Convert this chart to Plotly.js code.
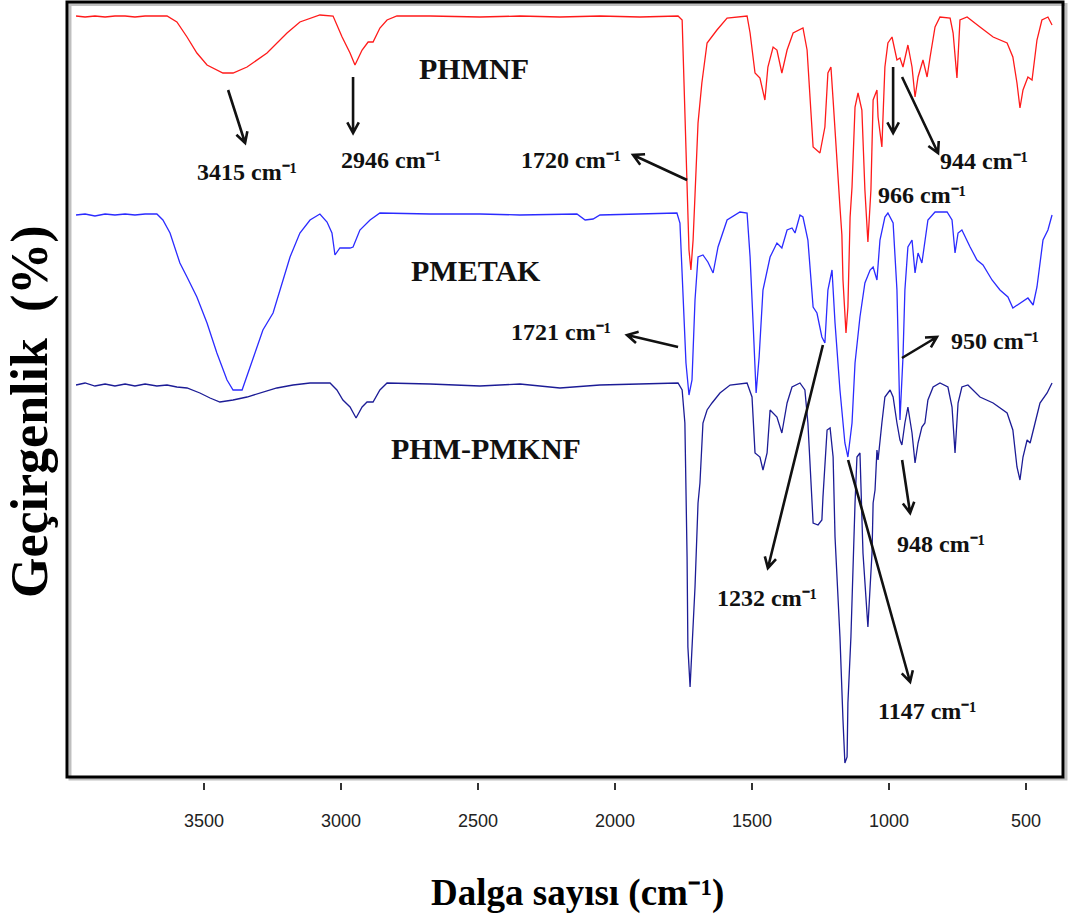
<!DOCTYPE html>
<html>
<head>
<meta charset="utf-8">
<script src="https://cdn.plot.ly/plotly-3.0.1.min.js"></script>
<style>html,body{margin:0;padding:0;background:#fff}#chart{width:1070px;height:921px}</style>
</head>
<body>
<div id="chart"></div>
<script>
// Wavenumbers (cm-1) and relative transmittance (arbitrary units, offset spectra)
const phmnfWn = [3967,3934,3898,3861,3825,3788,3752,3715,3672,3635,3599,3562,3526,3489,3431,3394,3343,3270,3197,3150,3077,3029,2996,2967,2949,2923,2901,2883,2858,2832,2796,2675,2493,2347,2201,2055,1909,1770,1755,1752,1745,1737,1730,1723,1715,1708,1697,1683,1664,1628,1591,1518,1507,1489,1471,1453,1442,1423,1409,1391,1372,1350,1314,1299,1288,1277,1252,1234,1223,1212,1204,1190,1179,1172,1168,1157,1150,1142,1135,1124,1113,1099,1088,1077,1066,1058,1044,1040,1026,1015,1004,989,971,960,949,931,916,905,894,876,861,850,832,814,777,766,752,741,715,668,620,569,548,533,522,511,493,478,460,442,420,405];
const phmnfT = [761,760,761,760,761,761,760,761,761,761,755,740,724,712,704,704,710,724,744,755,762,761,740,724,712,727,735,735,749,757,761,761,760,761,760,761,760,761,757,730,677,597,527,507,537,582,654,694,734,747,759,761,744,704,699,677,710,730,727,704,727,744,749,727,677,630,624,650,704,710,677,610,570,542,497,444,470,560,590,670,684,667,587,535,587,677,687,660,630,710,734,740,717,719,710,732,710,680,700,717,700,720,750,760,759,744,699,757,760,750,740,734,720,694,669,687,700,697,737,757,760,752];

const pmetakWn = [3967,3934,3898,3861,3825,3788,3752,3715,3672,3650,3624,3588,3562,3526,3489,3453,3416,3394,3361,3332,3296,3285,3248,3223,3186,3150,3113,3077,3051,3033,3022,3004,2967,2956,2931,2894,2858,2675,2493,2347,2201,2139,2109,2080,2055,1909,1774,1763,1752,1741,1730,1719,1708,1697,1679,1661,1642,1624,1591,1544,1518,1507,1496,1485,1474,1460,1434,1409,1391,1372,1354,1343,1325,1314,1296,1277,1263,1245,1234,1223,1208,1197,1179,1161,1150,1135,1124,1106,1088,1069,1058,1044,1033,1015,1004,985,971,967,960,949,942,931,916,905,894,880,869,858,832,788,770,759,748,734,704,679,657,624,595,566,548,522,493,474,460,438,420,405];
const pmetakT = [562,563,561,563,562,563,562,563,563,557,544,514,500,480,454,424,397,387,387,410,440,447,464,487,520,544,557,563,555,544,522,529,529,530,547,557,564,563,563,562,563,563,557,558,562,563,564,554,487,414,382,397,477,520,522,515,504,530,557,565,564,520,454,384,420,487,520,534,529,547,549,544,562,560,537,470,464,440,434,487,507,454,387,334,320,354,414,460,494,507,510,497,537,560,564,554,487,427,357,420,487,530,537,504,524,514,537,557,565,565,557,524,544,547,530,517,512,497,487,480,469,474,479,472,490,537,547,562];

const phmPmknfWn = [3967,3934,3898,3861,3825,3788,3752,3715,3672,3635,3599,3562,3515,3478,3442,3394,3343,3296,3234,3175,3113,3040,3015,2993,2967,2945,2923,2905,2883,2858,2832,2675,2493,2347,2201,2055,1909,1770,1755,1745,1737,1734,1726,1719,1708,1697,1690,1679,1664,1646,1617,1580,1518,1500,1489,1471,1460,1445,1434,1409,1391,1372,1354,1325,1307,1296,1288,1281,1277,1259,1245,1241,1234,1226,1215,1204,1197,1179,1168,1161,1153,1150,1139,1131,1124,1117,1106,1095,1080,1077,1069,1062,1058,1051,1044,1040,1026,1015,996,985,971,960,953,942,931,916,905,894,880,869,858,839,814,785,770,759,748,734,712,668,620,569,548,533,522,511,496,485,467,449,423,405];
const phmPmknfT = [392,394,391,393,391,393,391,393,391,392,390,389,384,379,375,377,380,384,389,392,394,394,387,377,370,359,370,375,375,387,394,393,391,393,389,392,393,394,387,354,220,130,90,130,190,274,294,354,367,374,384,392,394,380,324,320,307,324,367,360,344,374,390,394,387,354,307,274,254,252,257,280,307,347,349,320,240,140,57,14,20,74,140,224,274,320,324,224,157,150,190,224,274,287,327,317,354,380,387,380,354,337,332,354,370,344,314,334,350,354,377,390,394,390,370,324,374,390,392,380,374,364,347,310,297,320,337,334,354,374,384,394];

const tickValues = [3500,3000,2500,2000,1500,1000,500];
const tickLabels = ['3500','3000','2500','2000','1500','1000','500'];

const xTitle = 'Dalga sayısı (cm\u207b\u00b9)';
const yTitle = 'Geçirgenlik\u00a0 (%)';

const sampleNames = ['PHMNF','PMETAK','PHM-PMKNF'];
const sampleLabelPos = [[2515,709],[2507,507],[2471,329]];

const peakLabels = ['3415','2946','1720','944','966','1721','950','948','1232','1147'];
const peakLabelPos = [[3343,605],[2818,617],[2161,617],[653,616],[880,582],[2197,445],[613,436],[810,233],[1445,179],[861,66]];
// arrow heads (data coords) and tail offsets (screen px: right, down)
const arrowHeads = [[3350,634],[2956,644],[1934,622],[985,644],[821,624],[1956,442],[825,440],[923,264],[1442,209],[923,95]];
const arrowTails = [[-17,-53],[0,-56],[54,25],[0,-66],[-36,-76],[51,12],[-35,21],[-8,-53],[55,-223],[-62,-222]];

const serif = 'Liberation Serif, Times New Roman, serif';

const traces = [
  {x: phmnfWn, y: phmnfT, name: sampleNames[0], type: 'scatter', mode: 'lines', line: {color: '#ff1a1a', width: 1.3}},
  {x: pmetakWn, y: pmetakT, name: sampleNames[1], type: 'scatter', mode: 'lines', line: {color: '#2b2bff', width: 1.3}},
  {x: phmPmknfWn, y: phmPmknfT, name: sampleNames[2], type: 'scatter', mode: 'lines', line: {color: '#1c1c96', width: 1.3}}
];

const annotations = [];
sampleNames.forEach((n, i) => annotations.push({
  x: sampleLabelPos[i][0], y: sampleLabelPos[i][1], xref: 'x', yref: 'y',
  text: '<b>' + n + '</b>', showarrow: false, xanchor: 'center', yanchor: 'middle',
  font: {family: serif, size: 30, color: '#111'}
}));
peakLabels.forEach((p, i) => annotations.push({
  x: peakLabelPos[i][0], y: peakLabelPos[i][1], xref: 'x', yref: 'y',
  text: '<b>' + p + ' cm\u207b\u00b9</b>', showarrow: false, xanchor: 'center', yanchor: 'middle',
  font: {family: serif, size: 24, color: '#111'}
}));
// axis titles (placed as in the reference, slightly off-centre)
annotations.push({
  x: 0.513, y: -0.1425, xref: 'paper', yref: 'paper', text: '<b>' + xTitle + '</b>',
  showarrow: false, xanchor: 'center', yanchor: 'middle',
  font: {family: serif, size: 37, color: '#000'}
});
annotations.push({
  x: -0.0371, y: 0.475, xref: 'paper', yref: 'paper', text: '<b>' + yTitle + '</b>',
  showarrow: false, xanchor: 'center', yanchor: 'middle', textangle: -90,
  font: {family: serif, size: 52, color: '#000'}
});

const shapes = [
  {type: 'rect', xref: 'paper', yref: 'paper', x0: 0.003, x1: 1.003, y0: 0.0038, y1: 0.998,
    line: {color: 'rgba(0,0,0,0.25)', width: 3}, layer: 'below'},
  {type: 'rect', xref: 'paper', yref: 'paper', x0: 0, x1: 1, y0: 0.0064, y1: 1.0013,
    line: {color: '#000', width: 3}}
];
arrowHeads.forEach((h, i) => {
  const dx = arrowTails[i][0], dy = -arrowTails[i][1];
  const len = Math.hypot(dx, dy);
  const bx = dx / len, by = dy / len;
  const L = 12, a = 0.5, c = Math.cos(a), s = Math.sin(a);
  const w1 = [L * (bx * c - by * s), L * (bx * s + by * c)];
  const w2 = [L * (bx * c + by * s), L * (-bx * s + by * c)];
  const f = v => v.toFixed(2);
  shapes.push({
    type: 'path', xref: 'x', yref: 'y', xsizemode: 'pixel', ysizemode: 'pixel',
    xanchor: h[0], yanchor: h[1],
    path: 'M' + f(dx) + ',' + f(dy) + 'L0,0M' + f(w1[0]) + ',' + f(w1[1]) + 'L0,0L' + f(w2[0]) + ',' + f(w2[1]),
    line: {color: '#111', width: 2.6}
  });
});

const layout = {
  width: 1070, height: 921,
  margin: {l: 67, r: 7, t: 3, b: 139, pad: 0},
  paper_bgcolor: '#fff', plot_bgcolor: '#fff',
  showlegend: false,
  xaxis: {
    range: [4000, 365], anchor: 'free', position: 0,
    tickmode: 'array', tickvals: tickValues, ticktext: tickLabels,
    ticks: 'outside', ticklen: 7, tickwidth: 1.5, tickcolor: '#333',
    ticklabelstandoff: 15,
    showline: false, showgrid: false, zeroline: false, automargin: false,
    tickfont: {family: 'Liberation Sans, Arial, sans-serif', size: 18, color: '#222'}
  },
  yaxis: {
    range: [-1, 774], domain: [0.00513, 1],
    showticklabels: false, ticks: '', showline: false, showgrid: false, zeroline: false, automargin: false
  },
  shapes: shapes,
  annotations: annotations
};

Plotly.newPlot('chart', traces, layout, {displayModeBar: false, responsive: false});
</script>
</body>
</html>
